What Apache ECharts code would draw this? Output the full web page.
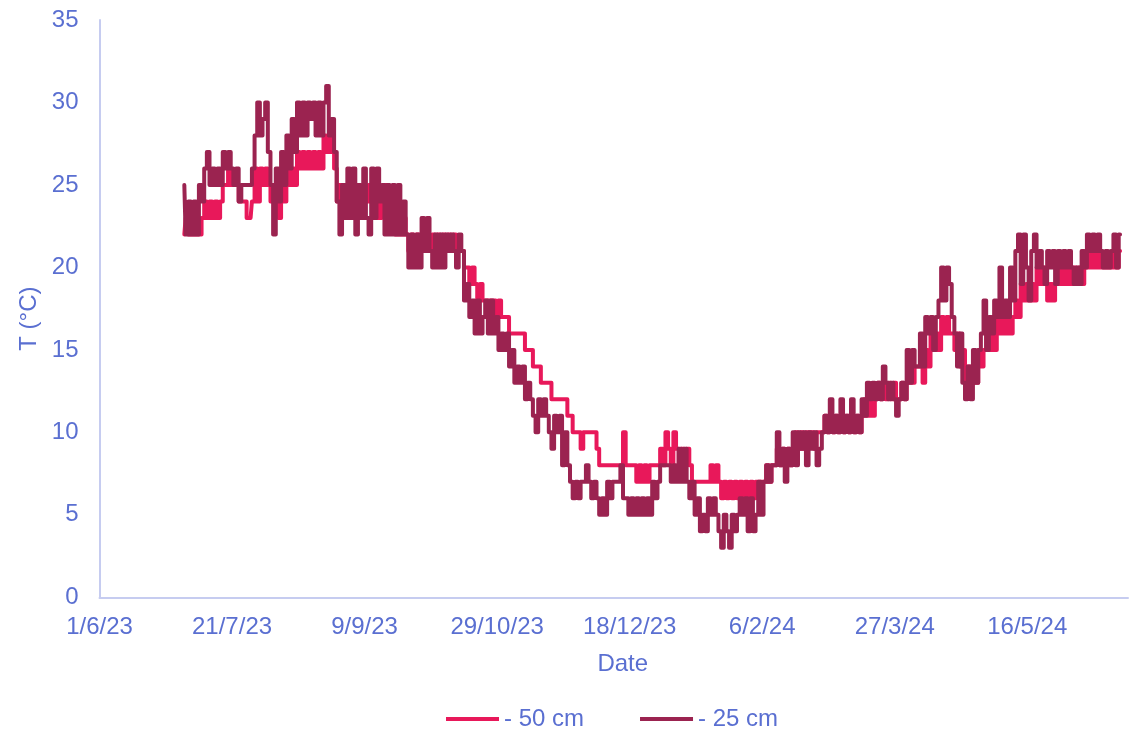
<!DOCTYPE html>
<html>
<head>
<meta charset="utf-8">
<title>Soil temperature</title>
<script src="https://cdn.jsdelivr.net/npm/echarts@6/dist/echarts.min.js"></script>
<style>
  html, body { margin: 0; padding: 0; background: #ffffff; }
  #chart { width: 1129px; height: 730px; }
</style>
</head>
<body>
<div id="chart"></div>
<script>
// Days are counted from 1 Jun 2023 (day 0); one reading per day.
const firstDay = 32; // 3 Jul 2023

// Tick labels every 50 days from 1 Jun 2023
const xTickLabels = ['1/6/23', '21/7/23', '9/9/23', '29/10/23', '18/12/23', '6/2/24', '27/3/24', '16/5/24'];
const yTicks = [0, 5, 10, 15, 20, 25, 30, 35];
const seriesNames = ['- 50 cm', '- 25 cm'];

// Temperature at 50 cm depth (°C); null = missing reading
const t50 = [
  22, 23, 22, 23, 22, 23, 22, 23, 24, 23,
  24, 23, 24, 23, 24, 25, 25, 26, 25, 25,
  25, 24, 24, null, null, 23, 24, 26, 24, 26,
  25, 26, 25, 24, 25, 24, 23, 25, 24, 26,
  25, 26, 25, 27, 26, 27, 26, 27, 26, 27,
  26, 27, 26, 28, 27, 28, 27, 26, 24, 25,
  24, 25, 23, 25, 24, 25, 23, 24, 25, 24,
  25, 24, 23, 24, 23, 24, 25, 23, 24, 23,
  22, 23, 22, 23, 22, 21, 22, 21, 22, 21,
  22, 21, 22, 21, 22, 21, 22, 21, 22, 21,
  22, 21, 22, 21, 21, 21, 20, 20, 19, 20,
  19, 18, 19, 18, 18, 18, 18, 18, 17, 18,
  17, 17, 17, 16, 16, 16, 16, 16, 16, 15,
  15, 15, 14, 14, 14, 13, 13, 13, 13, 12,
  12, 12, 12, 12, 12, 11, 11, 10, 10, 10,
  9, 10, 10, 10, 10, 10, 9, 8, 8, 8,
  8, 8, 8, 8, 8, 8, 10, 8, 8, 8,
  8, 7, 8, 7, 8, 7, 8, 8, 8, 8,
  9, 8, 10, 9, 8, 10, 9, 8, 9, 8,
  9, 8, 7, 7, 7, 7, 7, 7, 7, 8,
  7, 8, 7, 6, 7, 6, 7, 6, 7, 6,
  7, 6, 7, 6, 7, 6, 7, 7, 7, 7,
  8, 7, 8, 8, 9, 8, 9, 8, 9, 8,
  9, 10, 9, 10, 9, 10, 10, 10, 9, 10,
  10, 10, 11, 10, 11, 10, 11, 10, 11, 10,
  11, 10, 11, 10, 11, 10, 11, 12, 11, 12,
  11, 12, 13, 12, 13, 12, 13, 12, 13, 12,
  12, 13, 12, 13, 14, 13, 14, 14, 15, 13,
  15, 14, 16, 15, 16, 15, 17, 16, 17, 16,
  16, 15, 16, 14, 15, 13, 14, 13, 14, 13,
  15, 14, 15, 16, 15, 16, 15, 17, 16, 17,
  16, 17, 16, 17, 18, 17, 19, 18, 19, 18,
  19, 18, 20, 19, 20, 19, 18, 19, 18, 19,
  20, 19, 20, 19, 20, 19, 20, 19, 20, 19,
  20, 21, 20, 21, 20, 21, 20, 20, 20, 20,
  20, 21, 20, 21
];

// Temperature at 25 cm depth (°C)
const t25 = [
  25, 22, 24, 22, 24, 22, 25, 24, 26, 27,
  25, 26, 25, 26, 25, 27, 26, 27, 26, 25,
  26, 24, 25, 25, 25, 25, 26, 28, 30, 28,
  29, 30, 27, 25, 22, 26, 24, 27, 25, 28,
  26, 29, 27, 30, 28, 30, 28, 30, 29, 30,
  28, 30, 28, 30, 31, 28, 29, 27, 24, 22,
  25, 23, 26, 23, 26, 22, 25, 23, 26, 23,
  22, 26, 23, 26, 24, 25, 22, 25, 22, 25,
  22, 25, 22, 24, 22, 20, 22, 20, 22, 20,
  23, 21, 23, 21, 20, 22, 20, 22, 20, 22,
  21, 22, 21, 20, 22, 21, 18, 19, 17, 18,
  16, 18, 16, 17, 18, 16, 18, 16, 17, 15,
  16, 15, 16, 14, 15, 13, 14, 13, 14, 12,
  13, 12, 11, 10, 12, 11, 12, 11, 10, 9,
  11, 10, 11, 8, 10, 8, 7, 6, 7, 6,
  7, 7, 8, 7, 6, 7, 6, 5, 6, 5,
  7, 6, 7, 7, 7, 8, 6, 6, 5, 6,
  5, 6, 5, 6, 5, 6, 5, 7, 6, 7,
  8, 8, 8, 8, 7, 8, 7, 9, 7, 9,
  7, 6, 7, 5, 6, 4, 5, 4, 6, 5,
  6, 5, 4, 3, 5, 4, 3, 5, 4, 5,
  6, 5, 6, 4, 6, 4, 5, 7, 5, 7,
  8, 7, 8, 8, 10, 8, 9, 7, 9, 8,
  10, 8, 10, 9, 10, 8, 10, 9, 10, 8,
  9, 10, 11, 10, 12, 10, 11, 10, 12, 10,
  11, 10, 12, 10, 11, 10, 12, 11, 13, 12,
  13, 12, 13, 12, 14, 13, 12, 13, 12, 11,
  12, 13, 12, 15, 13, 15, 14, 14, 16, 14,
  17, 16, 17, 15, 17, 18, 20, 18, 20, 19,
  17, 16, 14, 16, 13, 12, 14, 12, 15, 13,
  15, 16, 18, 15, 17, 16, 18, 17, 20, 17,
  18, 17, 20, 18, 21, 22, 19, 22, 20, 18,
  21, 22, 20, 21, 20, 19, 21, 20, 21, 19,
  21, 20, 21, 20, 21, 20, 19, 20, 19, 21,
  20, 22, 21, 22, 21, 22, 21, 20, 21, 20,
  21, 22, 20, 22
];

const textColor = '#5A6FD1';
const axisColor = '#C6CCF0';
const lineColors = ['#E8185A', '#9B2350'];
const font = '"Liberation Sans", Arial, sans-serif';

const toPoints = arr => arr.map((v, i) => [firstDay + i, v]);

const chart = echarts.init(document.getElementById('chart'), null, { renderer: 'canvas' });

// Readings are whole degrees, so each series is drawn as a staircase
const lineSeries = (name, values, color) => ({
  name: name,
  type: 'line',
  step: 'middle',
  data: toPoints(values),
  showSymbol: false,
  symbol: 'none',
  connectNulls: true,
  animation: false,
  lineStyle: { color: color, width: 4, cap: 'round', join: 'round' },
  itemStyle: { color: color },
  emphasis: { disabled: true }
});

chart.setOption({
  animation: false,
  textStyle: { fontFamily: font },
  grid: { left: 99.5, right: 1, top: 20, bottom: 132.7, containLabel: false },
  legend: {
    data: seriesNames,
    left: 446,
    top: 707,
    padding: 0,
    icon: 'rect',
    itemWidth: 53,
    itemHeight: 4,
    itemGap: 56,
    textStyle: { color: textColor, fontSize: 24, fontFamily: font }
  },
  xAxis: {
    type: 'value',
    min: 0,
    max: 388,
    interval: 50,
    name: 'Date',
    nameLocation: 'middle',
    nameGap: 55,
    nameTextStyle: { color: textColor, fontSize: 24, fontFamily: font, padding: [0, 0, 0, 18] },
    axisLine: { show: true, lineStyle: { color: axisColor, width: 2 } },
    axisTick: { show: false },
    splitLine: { show: false },
    axisLabel: {
      color: textColor,
      fontSize: 24,
      fontFamily: font,
      margin: 18,
      showMaxLabel: false,
      formatter: v => (v % 50 === 0 && xTickLabels[v / 50] !== undefined) ? xTickLabels[v / 50] : ''
    }
  },
  yAxis: {
    type: 'value',
    min: yTicks[0],
    max: yTicks[yTicks.length - 1],
    interval: 5,
    name: 'T (°C)',
    nameLocation: 'middle',
    nameGap: 53,
    nameTextStyle: { color: textColor, fontSize: 24, fontFamily: font, padding: [0, 20, 0, 0] },
    axisLine: { show: true, lineStyle: { color: axisColor, width: 2 } },
    axisTick: { show: false },
    splitLine: { show: false },
    axisLabel: { color: textColor, fontSize: 24, fontFamily: font, margin: 21 }
  },
  series: [
    lineSeries(seriesNames[0], t50, lineColors[0]),
    lineSeries(seriesNames[1], t25, lineColors[1])
  ]
});
</script>
</body>
</html>
